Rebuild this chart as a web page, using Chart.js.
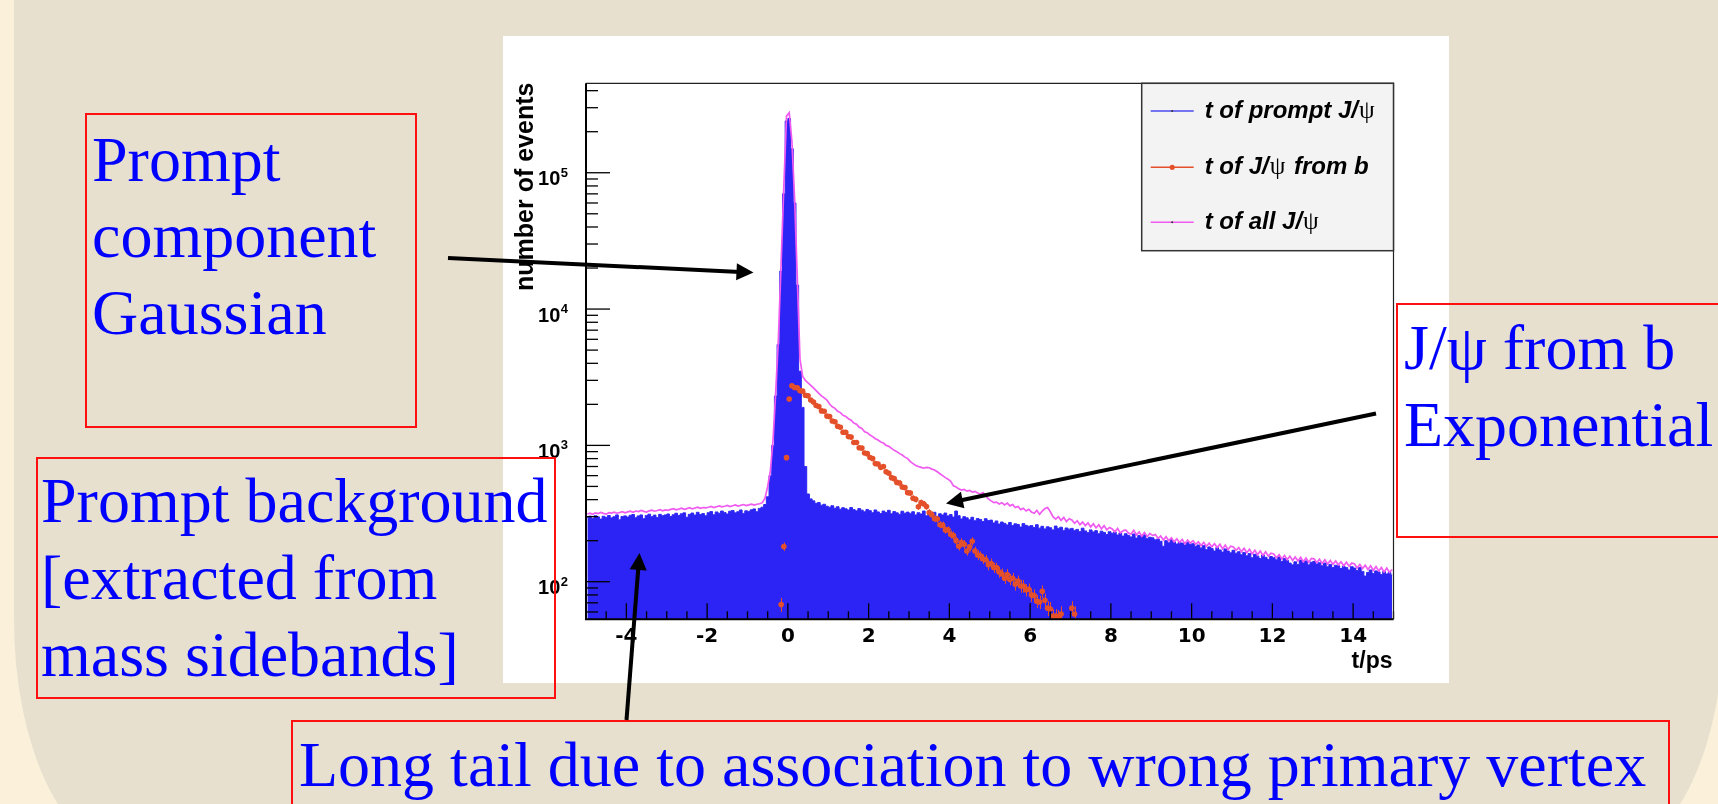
<!DOCTYPE html>
<html><head><meta charset="utf-8">
<script src="https://cdn.jsdelivr.net/npm/chart.js@4.4.1/dist/chart.umd.min.js"></script>
<style>
html,body{margin:0;padding:0;width:1718px;height:804px;overflow:hidden;background:#fbf1da;}
#paper{position:absolute;left:14px;top:-100px;width:1710px;height:950px;background:#e8e0cf;border-bottom-left-radius:110px 230px;border-bottom-right-radius:110px 230px;}
#plotbox{position:absolute;left:503px;top:36px;width:946px;height:647px;background:#fff;}
.note{position:absolute;border:2px solid #ff1010;box-sizing:border-box;}
.txt{position:absolute;font-family:"Liberation Serif","Times New Roman",serif;font-size:64px;line-height:76.7px;color:#0000ff;white-space:nowrap;}
#arrows{position:absolute;left:0;top:0;}
</style></head>
<body>
<div id="paper"></div>
<div id="plotbox"><canvas id="c"></canvas></div>

<div class="note" style="left:85px;top:113px;width:332px;height:315px;"></div>
<div class="txt" style="left:92px;top:121.7px;">Prompt<br>component<br>Gaussian</div>

<div class="note" style="left:36px;top:457px;width:520px;height:242px;"></div>
<div class="txt" style="left:41px;top:463.3px;">Prompt background<br>[extracted from<br>mass sidebands]</div>

<div class="note" style="left:1396px;top:303px;width:400px;height:235px;"></div>
<div class="txt" style="left:1404px;top:310px;">J/ψ from b<br>Exponential</div>

<div class="note" style="left:291px;top:720px;width:1379px;height:150px;"></div>
<div class="txt" style="left:299px;top:726.7px;">Long tail due to association to wrong primary vertex</div>

<svg id="arrows" width="1718" height="804">
  <g stroke="#000" stroke-width="4" fill="none">
    <line x1="448" y1="258" x2="740" y2="271.9"/>
    <line x1="1376" y1="413.5" x2="960" y2="500.5"/>
    <line x1="626.5" y1="720" x2="638.3" y2="568"/>
  </g>
  <g fill="#000">
    <polygon points="753.5,272.5 736.1,280.2 736.9,263.2"/>
    <polygon points="946,503.5 960.9,491.7 964.4,508.3"/>
    <polygon points="639.5,553 646.7,570.6 629.7,569.3"/>
  </g>
</svg>

<script>
// ---------------- data ----------------
const BIN_START = -5;          // first bin edge (ps)
const BINS_PER_PS = 15;        // 300 bins over [-5, 15]

// t of prompt J/psi (blue filled histogram), one row per ps
const promptCounts = [
  296,303,291,305,299,288,302,297,306,294,300,309,285,301,304,
  298,307,311,295,304,309,290,306,313,300,308,296,312,305,309,
  314,301,310,318,306,315,320,297,312,319,308,323,311,316,305,
  321,327,310,325,318,330,322,314,329,333,320,326,336,317,331,
  328,337,342,326,345,352,368,420,600,1000,2300,5500,19000,70000,240000,
  250000,150000,60000,15000,3500,1900,700,440,405,392,376,381,364,370,358,
  352,361,346,355,340,349,343,336,350,338,331,344,335,326,339,
  332,321,336,325,316,330,322,334,315,327,320,312,329,318,324,
  317,326,309,321,314,330,305,318,312,323,300,315,309,319,304,
  311,298,330,305,289,300,294,285,297,280,291,286,276,290,281,
  283,270,279,265,274,268,261,272,258,266,263,252,267,259,255,
  258,250,262,247,255,244,253,249,240,256,246,251,238,248,243,
  246,238,242,233,247,236,229,240,232,237,225,235,230,222,233,
  227,231,220,228,216,225,219,213,224,209,218,214,221,207,212,
  210,203,206,198,182,200,193,204,196,189,194,192,186,195,188,
  190,182,186,177,184,172,180,175,168,178,171,165,174,168,163,
  170,162,166,158,164,155,161,150,159,154,148,157,151,146,153,
  150,145,152,141,148,143,137,133,140,134,144,138,142,133,139,
  141,135,138,131,137,129,134,127,132,131,125,130,127,122,129,
  126,121,127,119,110,117,122,115,120,118,113,119,114,117,112
];

// t of all J/psi (magenta line)
const allCounts = [
  314,318,312,320,316,322,317,313,321,319,324,318,322,326,320,
  325,329,323,330,327,333,328,324,331,335,329,333,338,331,336,
  334,339,343,337,341,346,340,344,349,342,347,352,345,350,348,
  352,357,350,355,360,354,358,363,356,361,366,359,364,368,362,
  366,371,365,370,373,380,410,500,650,1100,2500,6200,22000,80000,260000,
  276000,170000,65000,17000,4300,3200,3000,2880,2760,2640,2520,2410,2310,2230,2150,
  2010,1920,1870,1780,1740,1660,1630,1570,1530,1460,1430,1360,1330,1260,1240,
  1190,1160,1120,1095,1060,1040,1000,985,950,920,900,870,850,820,800,
  760,735,712,700,690,680,690,686,670,660,640,620,600,580,565,
  545,505,495,480,470,476,462,468,455,460,448,440,450,425,405,
  392,380,384,372,380,366,377,360,368,350,356,338,346,330,340,
  325,318,334,312,330,344,350,326,300,288,300,282,296,276,290,
  284,268,280,262,274,258,270,252,266,248,262,244,258,240,250,
  244,232,246,228,236,240,228,224,238,220,232,216,230,214,226,
  218,222,208,216,202,214,200,210,196,206,194,204,190,202,192,
  200,188,196,184,194,182,192,180,190,178,188,174,186,172,182,
  180,170,178,166,176,163,173,160,170,158,168,156,166,154,162,
  160,150,158,147,156,145,154,143,152,142,151,140,149,139,148,
  147,138,146,136,145,135,143,134,142,133,140,131,139,130,137,
  135,126,134,125,132,123,131,121,129,120,127,118,126,117,123
];

// t of J/psi from b (red points with errors), starting at bin 72
const FROMB_FIRST_BIN = 72;
const fromBCounts = [
  68,181,813,2190,2740,2660,2650,2520,2500,2330,
  2310,2150,2080,1960,1930,1790,1780,1640,1630,1510,
  1490,1380,1360,1250,1250,1160,1150,1050,1050,960,
  955,880,870,815,800,735,730,690,700,640,
  625,580,570,535,530,495,490,450,448,410,
  402,355,380,372,356,322,310,290,288,262,
  260,240,240,222,218,200,182,194,188,168,
  180,198,168,157,155,147,145,133,136,127,
  127,118,114,106,113,104,106,96,101,93,
  93,87,88,80,79,72,71,85,73,64,
  63,56,56,55,58,null,null,null,64,58
];
const fromBErrors = [
  8,13,29,47,52,52,51,50,50,48,
  48,46,46,44,44,42,42,40,40,39,
  39,37,37,35,35,34,34,32,32,31,
  31,30,29,29,28,27,27,26,26,25,
  25,24,24,23,23,22,22,21,21,20,
  20,19,19,19,19,18,18,17,17,16,
  16,15,15,15,15,14,13,14,14,13,
  13,14,13,13,12,12,12,12,12,11,
  11,11,11,10,11,10,10,10,10,10,
  10,9,9,9,9,8,8,9,9,8,
  8,7,7,7,8,null,null,null,8,8
];

const seriesNames = ['t of prompt J/ψ', 't of J/ψ from b', 't of all J/ψ'];
const xTickLabels = [-4, -2, 0, 2, 4, 6, 8, 10, 12, 14];
const yTickPowers = [2, 3, 4, 5];
const xTitle = 't/ps';
const yTitle = 'number of events';

// ---------------- styling ----------------
const BLUE = '#2c24f4', RED = '#e4502a', PINK = '#f05af0';
const FONT = '"Liberation Sans", Arial, Helvetica, sans-serif';
const TICKFONT = '"DejaVu Sans", "Liberation Sans", sans-serif';

const binCenter = k => BIN_START + (k + 0.5) / BINS_PER_PS;
const promptData = promptCounts.map((v, k) => ({x: binCenter(k), y: v}));
const allData = allCounts.map((v, k) => ({x: binCenter(k), y: v}));
const fromBData = fromBCounts.map((v, i) => ({x: binCenter(FROMB_FIRST_BIN + i), y: v}));

const rootStyle = {
  id: 'rootStyle',
  afterDatasetsDraw(chart) {
    const {ctx, chartArea: a, scales: {x, y}} = chart;
    ctx.save();
    ctx.beginPath(); ctx.rect(a.left, a.top, a.right - a.left, a.bottom - a.top); ctx.clip();
    ctx.strokeStyle = RED; ctx.lineWidth = 1;
    fromBCounts.forEach((v, i) => {
      if (v == null) return;
      const e = fromBErrors[i];
      const px = Math.round(x.getPixelForValue(binCenter(FROMB_FIRST_BIN + i))) + 0.5;
      ctx.beginPath();
      ctx.moveTo(px, y.getPixelForValue(v - e));
      ctx.lineTo(px, y.getPixelForValue(v + e));
      ctx.stroke();
    });
    ctx.restore();
  },
  afterDraw(chart) {
    const {ctx, chartArea: a, scales: {x, y}} = chart;
    ctx.save();
    // ticks (inside the frame)
    ctx.strokeStyle = '#000'; ctx.lineWidth = 1.3;
    x.ticks.forEach(t => {
      const px = x.getPixelForValue(t.value);
      const major = Math.abs(t.value % 2) < 1e-9;
      ctx.beginPath(); ctx.moveTo(px, a.bottom); ctx.lineTo(px, a.bottom - (major ? 16 : 8)); ctx.stroke();
    });
    for (let p = 1; p <= 5; p++) {
      for (let m = 1; m <= 9; m++) {
        const v = m * Math.pow(10, p);
        if (v < y.min || v > y.max) continue;
        const py = y.getPixelForValue(v);
        ctx.beginPath(); ctx.moveTo(a.left, py); ctx.lineTo(a.left + (m === 1 ? 24 : 12), py); ctx.stroke();
      }
    }
    // frame
    ctx.strokeStyle = '#222'; ctx.lineWidth = 1.2;
    ctx.beginPath(); ctx.moveTo(a.left, a.top); ctx.lineTo(a.right, a.top); ctx.lineTo(a.right, a.bottom); ctx.stroke();
    ctx.strokeStyle = '#000'; ctx.lineWidth = 2;
    ctx.beginPath(); ctx.moveTo(a.left, a.top); ctx.lineTo(a.left, a.bottom); ctx.lineTo(a.right, a.bottom); ctx.stroke();
    // y labels 10^n
    ctx.fillStyle = '#000'; ctx.textAlign = 'right'; ctx.textBaseline = 'alphabetic';
    yTickPowers.forEach(p => {
      const py = y.getPixelForValue(Math.pow(10, p));
      ctx.font = 'bold 13px ' + FONT;
      const ew = ctx.measureText(String(p)).width;
      ctx.fillText(String(p), a.left - 18, py + 4);
      ctx.font = 'bold 20px ' + FONT;
      ctx.fillText('10', a.left - 18.5 - ew, py + 12.5);
    });
    // axis titles
    ctx.font = 'bold 23px ' + FONT; ctx.textAlign = 'right';
    ctx.fillText(xTitle, a.right - 1, a.bottom + 48.5);
    ctx.save();
    ctx.translate(30, a.top - 0.7); ctx.rotate(-Math.PI / 2);
    ctx.font = 'bold 25px ' + FONT; ctx.textAlign = 'right';
    ctx.fillText(yTitle, 0, 0);
    ctx.restore();
    // legend
    const lx = a.right - 251.8, ly = a.top, lh = 167.4;
    ctx.fillStyle = '#f3f3f3'; ctx.fillRect(lx, ly, a.right - lx, lh);
    ctx.strokeStyle = '#333'; ctx.lineWidth = 1.5; ctx.strokeRect(lx, ly, a.right - lx, lh);
    const rows = [{ds: 0, dy: 27.7, dot: 1}, {ds: 1, dy: 84, dot: 2.6}, {ds: 2, dy: 139, dot: 1}];
    rows.forEach(r => {
      const ds = chart.data.datasets[r.ds];
      const col = ds.legendColor;
      const yy = ly + r.dy;
      ctx.strokeStyle = col; ctx.lineWidth = 1.5;
      ctx.beginPath(); ctx.moveTo(lx + 9, yy); ctx.lineTo(lx + 52, yy); ctx.stroke();
      ctx.fillStyle = r.ds === 1 ? col : '#333';
      ctx.beginPath(); ctx.arc(lx + 30.5, yy, r.dot, 0, Math.PI * 2); ctx.fill();
      ctx.fillStyle = '#000'; ctx.textAlign = 'left';
      const parts = ds.label.split('ψ');
      let cx = lx + 63;
      parts.forEach((p, i) => {
        ctx.font = 'italic bold 24px ' + FONT;
        ctx.fillText(p, cx, yy + 7); cx += ctx.measureText(p).width;
        if (i < parts.length - 1) {
          ctx.font = '25px "Liberation Serif", serif';
          ctx.fillText('ψ', cx + 1, yy + 7); cx += ctx.measureText('ψ').width + 3;
        }
      });
    });
    ctx.restore();
  }
};

new Chart(document.getElementById('c'), {
  type: 'line',
  data: {
    datasets: [
      {label: seriesNames[0], data: promptData, stepped: 'middle', fill: 'start',
       borderColor: BLUE, backgroundColor: BLUE, borderWidth: 1, pointRadius: 0, order: 3, legendColor: '#4a4af0'},
      {label: seriesNames[1], data: fromBData, showLine: false, pointRadius: 2.8,
       pointBackgroundColor: RED, pointBorderColor: RED, pointBorderWidth: 0,
       borderColor: RED, backgroundColor: RED, order: 1, legendColor: RED},
      {label: seriesNames[2], data: allData, borderColor: PINK, borderWidth: 1.7,
       pointRadius: 0, fill: false, tension: 0, order: 2, legendColor: PINK}
    ]
  },
  options: {
    responsive: true, maintainAspectRatio: false, animation: false,
    layout: {padding: {left: 0, top: 47.3, right: 55.5, bottom: 0}},
    plugins: {legend: {display: false}, tooltip: {enabled: false}},
    scales: {
      x: {type: 'linear', min: -5, max: 15,
          grid: {display: false, drawTicks: false}, border: {display: false},
          ticks: {stepSize: 0.5, maxTicksLimit: 100, autoSkip: false, maxRotation: 0, minRotation: 0,
                  padding: 5, color: '#000', font: {family: TICKFONT, size: 20, weight: 'bold'},
                  callback: v => xTickLabels.includes(v) ? String(v) : ''},
          afterFit(s) { s.height = 63.7; }},
      y: {type: 'logarithmic', min: 53, max: 453000,
          grid: {display: false, drawTicks: false}, border: {display: false},
          ticks: {display: false},
          afterFit(s) { s.width = 83; }}
    }
  },
  plugins: [rootStyle]
});
</script>
</body></html>
